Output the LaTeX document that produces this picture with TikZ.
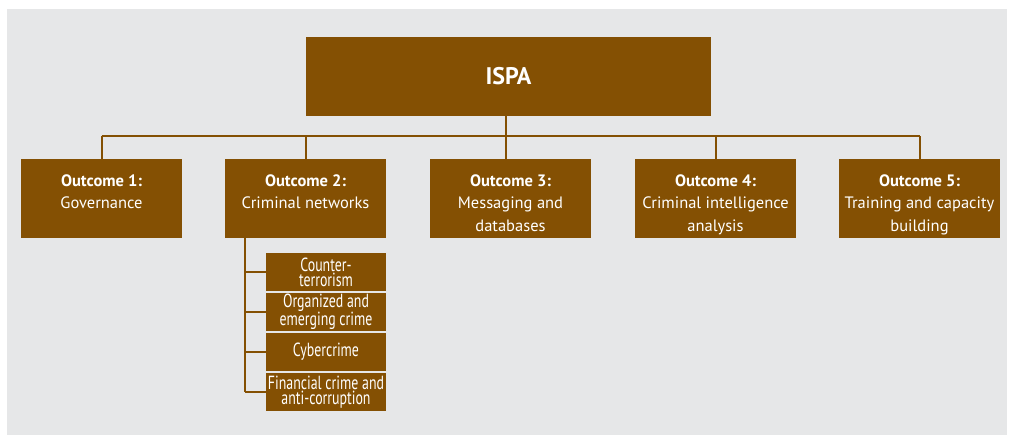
\documentclass[tikz,border=0pt]{standalone}
\usepackage{fontspec}
\setmainfont{PT Sans}
\newfontfamily\condfont[FakeStretch=0.73]{PT Sans}
\definecolor{brownbox}{HTML}{845003}
\definecolor{bggrey}{HTML}{E6E7E8}
\tikzset{
  mainbox/.style={fill=brownbox, draw=none, inner sep=0pt, minimum width=405pt, minimum height=79pt, text=white, font=\fontsize{24}{28}\selectfont\bfseries},
  outbox/.style={fill=brownbox, draw=none, inner sep=0pt, minimum width=161pt, minimum height=79pt},
  outtext/.style={text=white, inner sep=0pt, align=center, anchor=north, font=\fontsize{16.5}{22.5}\selectfont},
  subbox/.style={fill=brownbox, draw=none, inner sep=0pt, minimum width=120pt, minimum height=38pt, text=white, align=center, font=\condfont\fontsize{19}{15}\selectfont},
  link/.style={draw=brownbox, line width=2pt}
}
\begin{document}
\begin{tikzpicture}[x=1pt,y=-1pt]
\useasboundingbox (0,0) rectangle (1009,436);
\fill[bggrey] (7,9) rectangle (1007,435);
% top box
\node[mainbox] (ispa) at (508.5,76.5) {ISPA};
% outcome boxes
\node[outbox] (o1) at (101.5,198.5) {};
\node[outbox] (o2) at (305.5,198.5) {};
\node[outbox] (o3) at (510.5,198.5) {};
\node[outbox] (o4) at (715.5,198.5) {};
\node[outbox] (o5) at (919.5,198.5) {};
\node[outtext] (t1) at (101.5,174.5) {\textbf{Outcome 1:}\\Governance};
\node[outtext] (t2) at (305.5,174.5) {\textbf{Outcome 2:}\\Criminal networks};
\node[outtext] (t3) at (510.5,174.5) {\textbf{Outcome 3:}\\Messaging and\\databases};
\node[outtext] (t4) at (715.5,174.5) {\textbf{Outcome 4:}\\Criminal intelligence\\analysis};
\node[outtext] (t5) at (919.5,174.5) {\textbf{Outcome 5:}\\Training and capacity\\building};
% sub boxes
\node[subbox] (s1) at (326,272) {Counter-\\terrorism};
\node[subbox] (s2) at (326,312) {Organized and\\emerging crime};
\node[subbox] (s3) at (326,352) {Cybercrime};
\node[subbox] (s4) at (326,392) {Financial crime and\\anti-corruption};
% connectors
\coordinate (hb) at (506,136);
\coordinate (hl) at (101.5,136);
\coordinate (hr) at (919.5,136);
\draw[link] (ispa.south -| hb) -- (hb);
\draw[link] (hl) -- (hr);
\draw[link] (hl) -- (o1.north);
\draw[link] (o2.north |- hb) -- (o2.north);
\draw[link] (hb) -- (o3.north -| hb);
\draw[link] (o4.north |- hb) -- (o4.north);
\draw[link] (hr) -- (o5.north);
\coordinate (vt) at (245,238);
\coordinate (vb) at (245,392);
\draw[link] (vt) -- (vb);
\draw[link] (s1.west -| vt) -- (s1.west);
\draw[link] (s2.west -| vt) -- (s2.west);
\draw[link] (s3.west -| vt) -- (s3.west);
\draw[link] (vb) -- (s4.west);
\end{tikzpicture}
\end{document}
